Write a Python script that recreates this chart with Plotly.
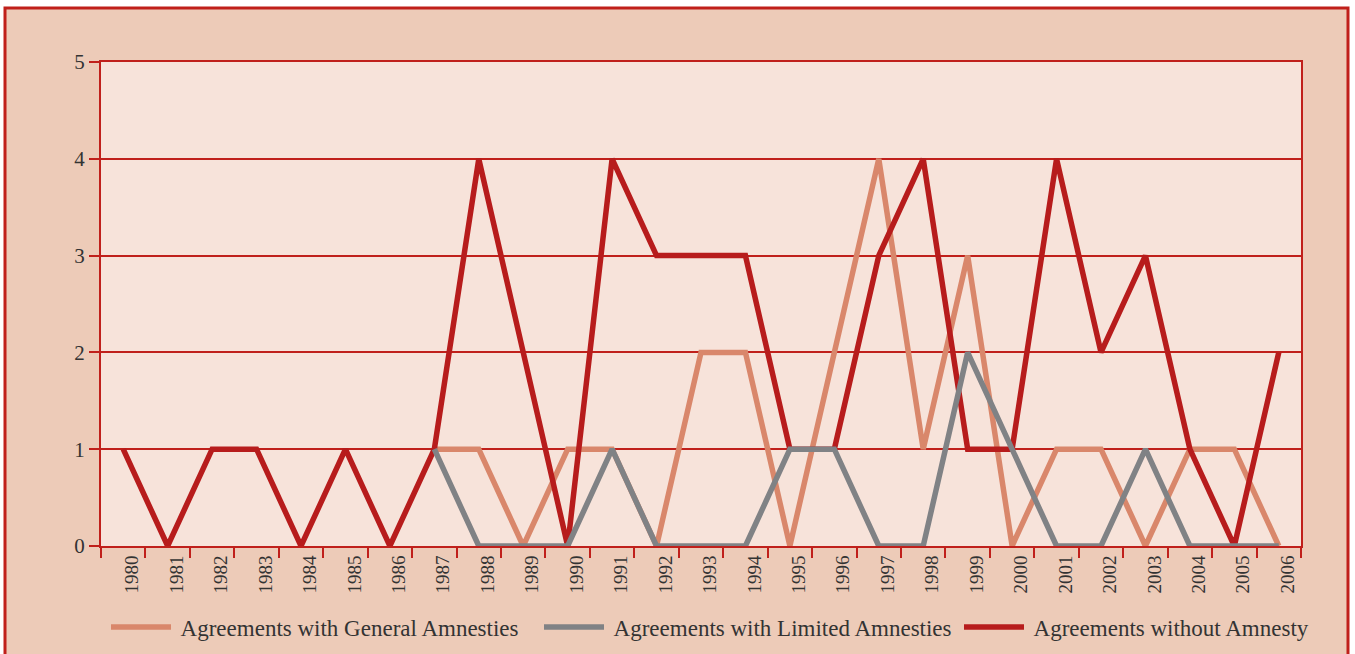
import plotly.graph_objects as go

years = [str(y) for y in range(1980, 2007)]

general = [None, None, None, None, None, None, None,
           1, 1, 0, 1, 1, 0, 2, 2, 0, 2, 4, 1, 3, 0, 1, 1, 0, 1, 1, 0]
limited = [None, None, None, None, None, None, None,
           1, 0, 0, 0, 1, 0, 0, 0, 1, 1, 0, 0, 2, 1, 0, 0, 1, 0, 0, 0]
without = [1, 0, 1, 1, 0, 1, 0,
           1, 4, 2, 0, 4, 3, 3, 3, 1, 1, 3, 4, 1, 1, 4, 2, 3, 1, 0, 2]

names = ["Agreements with General Amnesties",
         "Agreements with Limited Amnesties",
         "Agreements without Amnesty"]

C_GEN = "#D9876B"
C_LIM = "#808285"
C_WITH = "#B71C1C"
AXIS_RED = "#C0201B"
TEXT = "#333333"
FONT = "Liberation Serif"

def lab(s):
    return "\u2009" + s

fig = go.Figure()
fig.add_trace(go.Scatter(x=years, y=general, mode="lines", name=lab(names[0]),
                         line=dict(color=C_GEN, width=5.5), legend="legend"))
fig.add_trace(go.Scatter(x=years, y=without, mode="lines", name=lab(names[2]),
                         line=dict(color=C_WITH, width=5.5), legend="legend3"))
fig.add_trace(go.Scatter(x=years, y=limited, mode="lines", name=lab(names[1]),
                         line=dict(color=C_LIM, width=5.5), legend="legend2"))

L, R, T, B = 101, 54, 62, 108
W, H = 1355, 654
pw, ph = W - L - R, H - T - B

def px(x):
    return (x - L) / pw

def py(y):
    return (H - B - y) / ph

def leg(xpix):
    return dict(orientation="h", x=px(xpix), xanchor="left", y=py(627), yanchor="middle",
                font=dict(family=FONT, size=23, color=TEXT), itemwidth=60,
                bgcolor="rgba(0,0,0,0)")

fig.update_layout(
    width=W, height=H,
    margin=dict(l=L, r=R, t=T, b=B, autoexpand=False),
    paper_bgcolor="white",
    plot_bgcolor="#F7E3DA",
    font=dict(family=FONT, color=TEXT, size=20),
    showlegend=True,
    legend=leg(106),
    legend2=leg(539),
    legend3=leg(959),
    shapes=[
        dict(type="rect", xref="paper", yref="paper", layer="below",
             x0=px(5), x1=px(1348), y0=py(700), y1=py(8),
             fillcolor="#EDCBB8", line=dict(color=AXIS_RED, width=3)),
        dict(type="rect", xref="paper", yref="paper", layer="below",
             x0=0, x1=1, y0=0, y1=1, fillcolor="#F7E3DA", line=dict(width=0)),
    ],
)

fig.update_xaxes(type="category", range=[-0.5, len(years) - 0.5], showgrid=False,
                 showline=True, linecolor=AXIS_RED, linewidth=2, automargin=False,
                 mirror=True, ticks="outside", tickson="boundaries", ticklen=10, tickwidth=2,
                 tickcolor=AXIS_RED, tickangle=-90, tickfont=dict(family=FONT, size=19, color=TEXT),
                 ticklabelshift=9)
fig.update_yaxes(range=[0, 5], dtick=1, showgrid=True, gridcolor=AXIS_RED, gridwidth=1.5,
                 zeroline=False, showline=True, linecolor=AXIS_RED, linewidth=2, mirror=True,
                 automargin=False,
                 ticks="outside", ticklen=10, tickwidth=2, tickcolor=AXIS_RED,
                 tickfont=dict(family=FONT, size=21, color=TEXT))

fig.write_html("out.html", config={"displayModeBar": False},
               post_script="document.body.style.margin='0';")
